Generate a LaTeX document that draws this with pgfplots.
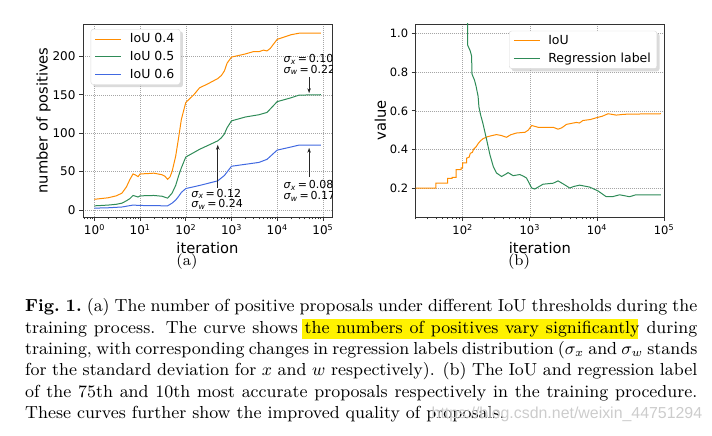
\documentclass[border=0pt]{standalone}
\usepackage{fontspec}
\usepackage{graphicx}
\usepackage{pgfplots}
\pgfplotsset{compat=1.18}
\usetikzlibrary{arrows.meta}
\pgfdeclarelayer{background}
\pgfsetlayers{background,main}
\newfontfamily\dejavu{DejaVu Sans}
\newfontfamily\wmfont{Liberation Sans}
\definecolor{cOrange}{HTML}{FF8C00}
\definecolor{cGreen}{HTML}{2E8B57}
\definecolor{cBlue}{HTML}{4169E1}
\newcommand\hl[1]{\leavevmode\rlap{\hspace{-1.2pt}{\setlength\fboxsep{1.2pt}\colorbox{yellow}{\phantom{#1}}}}#1}
\newcommand\sig[2]{\textit{σ}\textsubscript{\textit{#1}}\,=\,#2}

\pgfplotstableread{
x y
1 14
2 16
3 18.5
4 22
5 30
6 40
7 47
8 45.5
9 43.5
10 47
15 47.5
20 48
30 46
35 44
40 40
45 43
50 50
60 70
70 95
80 118
100 140
150 150
200 159
300 164
500 171
600 175
700 181
800 191
1000 199
2000 203
3000 206
4000 206
5000 208
6000 207
7000 210
10000 222
20000 228
30000 230
90000 230
}\tabAo

\pgfplotstableread{
x y
1 5.5
2 6.5
3 7.5
4 9
5 12
6 15
7 19
8 18
9 17
10 18.5
20 19
30 18
40 15.5
50 22
60 32
70 45
80 55
100 69
200 79
500 90
600 94
700 99
800 107
1000 116
2000 121
4000 124
6000 127
10000 141
20000 146
30000 149.5
90000 150
}\tabAg

\pgfplotstableread{
x y
1 2.5
2 3
4 4
5 5
7 6.5
10 6
40 5.5
50 9
60 13
70 18
80 23
100 28
200 32
500 38
700 45
1000 57
2000 59.5
4000 62
6000 66
10000 78
20000 82
30000 84.5
90000 84.5
}\tabAb

\pgfplotstableread{
x y
20 0.2
40 0.2
40 0.225
60 0.225
60 0.25
70 0.25
70 0.255
80 0.255
80 0.295
95 0.295
95 0.305
100 0.305
100 0.33
115 0.33
115 0.355
125 0.36
130 0.38
140 0.385
145 0.40
160 0.415
170 0.43
185 0.445
200 0.455
230 0.465
260 0.47
320 0.477
380 0.472
450 0.463
520 0.476
630 0.485
850 0.489
950 0.50
1070 0.524
1330 0.515
2230 0.515
2640 0.505
3000 0.512
3530 0.53
4950 0.54
5500 0.537
6200 0.55
8000 0.555
10000 0.565
12000 0.572
14700 0.585
19500 0.578
25000 0.582
30700 0.583
90000 0.585
}\tabBo

\pgfplotstableread{
x y
119 1.5
119 0.94
130 0.91
136 0.884
138 0.79
150 0.76
158 0.73
170 0.676
175 0.62
185 0.58
200 0.537
228 0.45
255 0.373
286 0.312
320 0.278
380 0.26
430 0.27
476 0.28
566 0.264
710 0.27
800 0.262
895 0.252
1070 0.2
1190 0.195
1580 0.22
2230 0.225
2640 0.237
3200 0.22
3950 0.2
4500 0.208
5540 0.215
7800 0.205
10400 0.185
13800 0.155
17000 0.155
21800 0.165
26000 0.16
30700 0.155
38000 0.165
90000 0.165
}\tabBg

\begin{document}
\begin{tikzpicture}[x=1pt,y=1pt]
\useasboundingbox (0,0) rectangle (712,436);

% ---------- (a)
\begin{axis}[
  xmode=log, scale only axis,
  at={(83pt,219pt)}, anchor=south west,
  width=249pt, height=193pt,
  xmin=0.5623, xmax=158489, ymin=-9, ymax=242,
  axis line style={black!80, line width=0.8pt},
  tick align=outside, tick pos=left,
  major tick length=4pt, minor tick length=2.3pt,
  every tick/.style={black!80, line width=0.7pt},
  grid=major,
  major grid style={gray!70, line width=0.4pt, dash pattern=on 1.2pt off 0.8pt},
  tick label style={font=\dejavu\fontsize{12}{14}\selectfont},
  label style={font=\dejavu\fontsize{14.7}{17}\selectfont},
  ylabel shift=-5pt,
  /pgf/number format/assume math mode=true,
  xtick={1,10,100,1000,10000,100000},
  xticklabels={10\textsuperscript{0},10\textsuperscript{1},10\textsuperscript{2},10\textsuperscript{3},10\textsuperscript{4},10\textsuperscript{5}},
  minor xtick={0.6,0.7,0.8,0.9,2,3,4,5,6,7,8,9,20,30,40,50,60,70,80,90,200,300,400,500,600,700,800,900,2000,3000,4000,5000,6000,7000,8000,9000,20000,30000,40000,50000,60000,70000,80000,90000},
  ytick={0,50,100,150,200},
  xlabel={iteration}, ylabel={number of positives},
  legend cell align=left,
  legend style={name=legA, at={(0.031,0.974)}, anchor=north west,
    font=\dejavu\fontsize{12.5}{14}\selectfont, draw=gray!30, fill=white,
    rounded corners=2.5pt, inner xsep=4pt, inner ysep=2.5pt, row sep=3pt, column sep=6pt},
  legend image code/.code={\draw[#1] (0pt,0pt) -- (26pt,0pt);},
]
\addplot[color=cOrange, line width=1pt] table[x=x,y=y] {\tabAo};
\addlegendentry{IoU 0.4}
\addplot[color=cGreen, line width=1pt] table[x=x,y=y] {\tabAg};
\addlegendentry{IoU 0.5}
\addplot[color=cBlue, line width=1pt] table[x=x,y=y] {\tabAb};
\addlegendentry{IoU 0.6}
\draw[black!85, line width=0.8pt, -{Stealth[length=5pt,width=3.5pt]}] (axis cs:500,29) -- (axis cs:500,85);
\draw[black!85, line width=0.8pt, -{Stealth[length=5pt,width=3.5pt]}] (axis cs:50000,173) -- (axis cs:50000,152);
\draw[black!85, line width=0.8pt, -{Stealth[length=5pt,width=3.5pt]}] (axis cs:50000,43.5) -- (axis cs:50000,81);
\node[font=\dejavu\fontsize{11}{10.5}\selectfont, align=left, inner sep=0] at (axis cs:486,14.3) {\sig{x}{0.12}\\\sig{w}{0.24}};
\node[font=\dejavu\fontsize{11}{10.5}\selectfont, align=left, inner sep=0] at (axis cs:50600,189) {\sig{x}{0.10}\\\sig{w}{0.22}};
\node[font=\dejavu\fontsize{11}{10.5}\selectfont, align=left, inner sep=0] at (axis cs:50600,25) {\sig{x}{0.08}\\\sig{w}{0.17}};
\end{axis}

% ---------- (b)
\begin{axis}[
  xmode=log, scale only axis,
  at={(415.7pt,219pt)}, anchor=south west,
  width=248.3pt, height=193pt,
  xmin=20, xmax=100000, ymin=0.05, ymax=1.05,
  axis line style={black!80, line width=0.8pt},
  tick align=outside, tick pos=left,
  major tick length=4pt, minor tick length=2.3pt,
  every tick/.style={black!80, line width=0.7pt},
  grid=major,
  major grid style={gray!70, line width=0.4pt, dash pattern=on 1.2pt off 0.8pt},
  tick label style={font=\dejavu\fontsize{11.5}{14}\selectfont},
  label style={font=\dejavu\fontsize{14.7}{17}\selectfont},
  ylabel shift=-3pt,
  /pgf/number format/assume math mode=true,
  xtick={100,1000,10000,100000},
  xticklabels={10\textsuperscript{2},10\textsuperscript{3},10\textsuperscript{4},10\textsuperscript{5}},
  minor xtick={20,30,40,50,60,70,80,90,200,300,400,500,600,700,800,900,2000,3000,4000,5000,6000,7000,8000,9000},
  ytick={0.2,0.4,0.6,0.8,1.0},
  yticklabel style={/pgf/number format/.cd, fixed, fixed zerofill, precision=1},
  xlabel={iteration}, ylabel={value},
  legend cell align=left,
  legend style={name=legB, at={(0.972,0.965)}, anchor=north east,
    font=\dejavu\fontsize{12.5}{14}\selectfont, draw=gray!30, fill=white,
    rounded corners=2.5pt, inner xsep=4pt, inner ysep=2.5pt, row sep=3pt, column sep=6pt},
  legend image code/.code={\draw[#1] (0pt,0pt) -- (26pt,0pt);},
]
\addplot[color=cOrange, line width=1pt] table[x=x,y=y] {\tabBo};
\addlegendentry{IoU}
\addplot[color=cGreen, line width=1pt] table[x=x,y=y] {\tabBg};
\addlegendentry{Regression label}
\end{axis}

% legend shadows, behind everything
\begin{pgfonlayer}{background}
\fill[gray!28, rounded corners=2.5pt] ([xshift=2.5pt,yshift=-2.5pt]legA.south west) rectangle ([xshift=2.5pt,yshift=-2.5pt]legA.north east);
\fill[gray!28, rounded corners=2.5pt] ([xshift=2.5pt,yshift=-2.5pt]legB.south west) rectangle ([xshift=2.5pt,yshift=-2.5pt]legB.north east);
\end{pgfonlayer}

% subfigure labels
\node[anchor=base, inner sep=0] at (187,170) {\scalebox{1.937}{\fontsize{8}{9.5}\selectfont (a)}};
\node[anchor=base, inner sep=0] at (519,170) {\scalebox{1.937}{\fontsize{8}{9.5}\selectfont (b)}};

% caption
\node[anchor=base west, inner sep=0] at (25,124) {\scalebox{1.937}{\parbox[t]{347pt}{\fontsize{9}{11}\selectfont
\textbf{Fig.~1.}\ (a) The number of positive proposals under different IoU thresholds during the training process. The curve shows \hl{the numbers of positives vary significantly} during training, with corresponding changes in regression labels distribution ($\sigma_x$ and $\sigma_w$ stands for the standard deviation for $x$ and $w$ respectively). (b) The IoU and regression label of the 75th and 10th most accurate proposals respectively in the training procedure. These curves further show the improved quality of proposals.}}};

% watermark
\node[anchor=base west, inner sep=0, text=gray!40, font=\wmfont\fontsize{15.9}{18}\selectfont] at (431.5,17.5) {https://blog.csdn.net/weixin\_44751294};
\end{tikzpicture}
\end{document}
